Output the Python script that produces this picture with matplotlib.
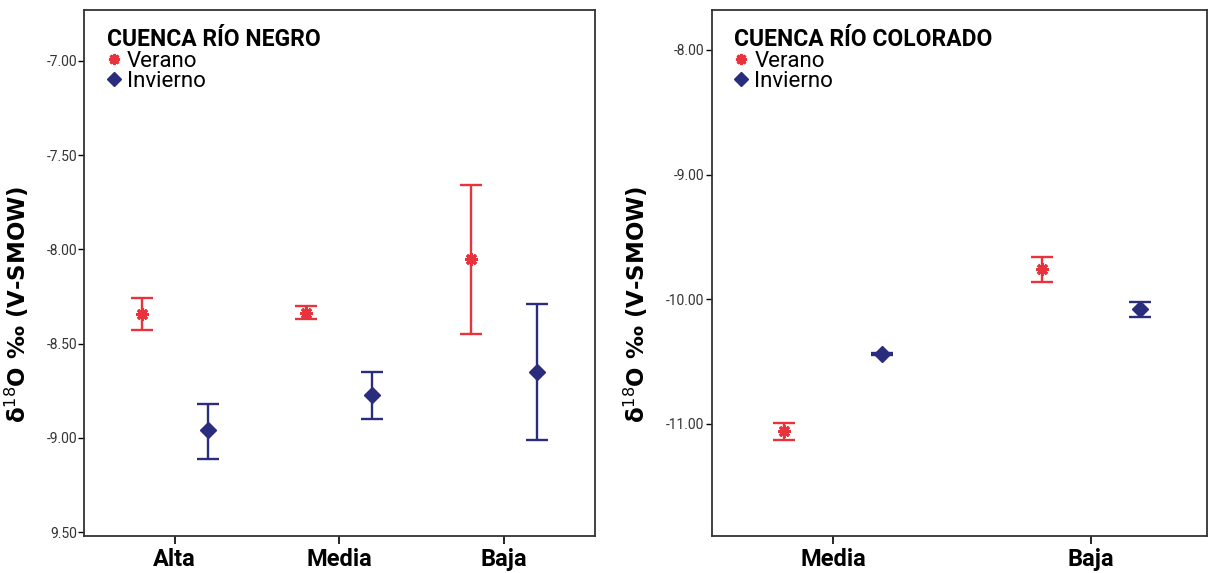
import numpy as np
import matplotlib.pyplot as plt
from matplotlib.lines import Line2D

plt.rcParams['font.family'] = ['Roboto', 'DejaVu Sans']

# Cuenca Rio Negro
negro_cats = ['Alta', 'Media', 'Baja']
negro_verano = [-8.34, -8.335, -8.05]
negro_verano_hi = [-8.26, -8.30, -7.66]
negro_verano_lo = [-8.43, -8.37, -8.45]
negro_invierno = [-8.96, -8.77, -8.65]
negro_invierno_hi = [-8.82, -8.65, -8.29]
negro_invierno_lo = [-9.11, -8.90, -9.01]
negro_yticks = [-7.0, -7.5, -8.0, -8.5, -9.0, -9.5]
negro_yticklabels = ['-7.00', '-7.50', '-8.00', '-8.50', '-9.00', '9.50']

# Cuenca Rio Colorado
colorado_cats = ['Media', 'Baja']
colorado_verano = [-11.06, -9.76]
colorado_verano_hi = [-10.99, -9.66]
colorado_verano_lo = [-11.13, -9.86]
colorado_invierno = [-10.44, -10.08]
colorado_invierno_hi = [-10.43, -10.02]
colorado_invierno_lo = [-10.45, -10.14]
colorado_yticks = [-8.0, -9.0, -10.0, -11.0]
colorado_yticklabels = ['-8.00', '-9.00', '-10.00', '-11.00']

RED = '#e8323c'
NAVY = '#2a2c7e'
STAR = (8, 2, 0)
YLABEL = 'δ$^{18}$O ‰ (V-SMOW)'


def draw_panel(ax, cats, ver, ver_hi, ver_lo, inv, inv_hi, inv_lo, off,
               yticks, yticklabels, ylim, xlim, title, label_x):
    x = np.arange(len(cats))
    ver = np.array(ver); inv = np.array(inv)
    ver_err = [ver - np.array(ver_lo), np.array(ver_hi) - ver]
    inv_err = [inv - np.array(inv_lo), np.array(inv_hi) - inv]
    ax.errorbar(x - off, ver, yerr=ver_err, fmt='none', ecolor=RED,
                elinewidth=1.7, capsize=8, capthick=1.7)
    ax.plot(x - off, ver, linestyle='none', marker=STAR, color=RED,
            markersize=9, markeredgewidth=2.2)
    ax.errorbar(x + off, inv, yerr=inv_err, fmt='none', ecolor=NAVY,
                elinewidth=1.7, capsize=8, capthick=1.7)
    ax.plot(x + off, inv, linestyle='none', marker='D', color=NAVY,
            markersize=8)

    ax.set_xlim(*xlim)
    ax.set_ylim(*ylim)
    ax.set_xticks(x)
    ax.set_xticklabels(cats, fontsize=17, fontweight='bold')
    ax.set_yticks(yticks)
    ax.set_yticklabels(yticklabels, fontsize=10, color='#333333')
    ax.tick_params(axis='y', length=4, width=1, pad=1)
    ax.tick_params(axis='x', length=6, width=1.2, pad=3)
    ax.set_ylabel(YLABEL, fontsize=16.5, fontweight='bold',
                  family='DejaVu Sans')
    ax.yaxis.set_label_coords(label_x, 0.44)
    for s in ax.spines.values():
        s.set_linewidth(1.3)
        s.set_color('#333333')

    handles = [Line2D([], [], linestyle='none', marker=STAR, color=RED,
                      markersize=8, markeredgewidth=2),
               Line2D([], [], linestyle='none', marker='D', color=NAVY,
                      markersize=7.5)]
    leg = ax.legend(handles, ['Verano', 'Invierno'], title=title,
                    loc='upper left', bbox_to_anchor=(0.01, 1.0),
                    frameon=False, fontsize=16, handlelength=0.6,
                    handletextpad=0.3, labelspacing=-0.05, borderpad=0.3)
    leg.get_title().set_fontweight('bold')
    leg.get_title().set_fontsize(16.5)
    leg._legend_box.align = 'left'
    leg._legend_box.sep = 0


fig = plt.figure(figsize=(12.08, 5.73), dpi=100)
ax1 = fig.add_axes([0.0695, 0.0646, 0.423, 0.918])
ax2 = fig.add_axes([0.589, 0.0646, 0.4105, 0.918])

draw_panel(ax1, negro_cats, negro_verano, negro_verano_hi, negro_verano_lo,
           negro_invierno, negro_invierno_hi, negro_invierno_lo, 0.2,
           negro_yticks, negro_yticklabels, (-9.52, -6.73), (-0.55, 2.55),
           'CUENCA RÍO NEGRO', -0.104)
draw_panel(ax2, colorado_cats, colorado_verano, colorado_verano_hi,
           colorado_verano_lo, colorado_invierno, colorado_invierno_hi,
           colorado_invierno_lo, 0.19, colorado_yticks, colorado_yticklabels,
           (-11.9, -7.68), (-0.47, 1.45), 'CUENCA RÍO COLORADO', -0.124)

fig.savefig('out.png', dpi=100)
